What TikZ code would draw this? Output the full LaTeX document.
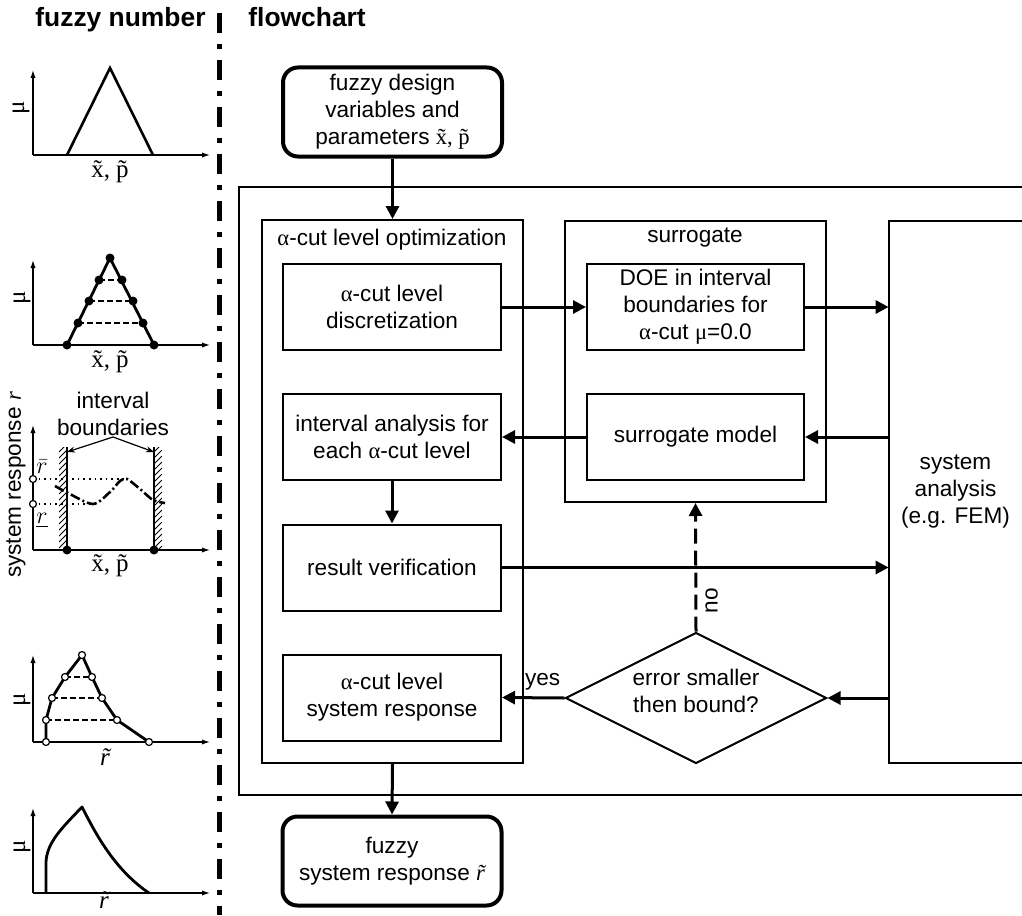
\documentclass[tikz,border=0pt]{standalone}
\usepackage{fontspec}
\setmainfont{Liberation Sans}
\newfontfamily\serif{Liberation Serif}
\usetikzlibrary{arrows.meta,shapes.geometric}
\newcommand{\al}{{\serif α}}
\newcommand{\mymu}{{\serif μ}}
\newcommand{\txt}{\fontsize{11.3}{13.5}\selectfont}
\newcommand{\xp}{{\serif\~x, \~p}}
\newcommand{\rt}{{\serif\itshape\~r}}

\begin{document}
\begin{tikzpicture}[x=0.5pt,y=-0.5pt,
  every node/.style={font=\txt, inner sep=2pt},
  box/.style={draw, line width=1pt, minimum width=109pt, minimum height=43pt, align=center},
  group/.style={draw, line width=1pt, inner sep=0pt},
  frame/.style={line width=1pt},
  term/.style={draw, line width=2pt, rounded corners=7.5pt, minimum width=109.5pt, minimum height=44.5pt, align=center},
  flow/.style={line width=1.5pt, -{Triangle[length=6.5pt,width=6.5pt]}},
  axis/.style={line width=0.6pt, -{Latex[length=4pt,width=2.6pt]}},
  curve/.style={line width=1.4pt, line join=round},
  level/.style={line width=0.6pt, dash pattern=on 3pt off 1.5pt},
  lbl/.style={font=\fontsize{12.5}{14}\selectfont\serif},
  title/.style={font=\fontsize{13.2}{15}\selectfont\bfseries, anchor=base west, inner sep=0pt},
  opendot/.style={fill=white, draw, line width=0.6pt}
]
\useasboundingbox (0,0) rectangle (1022,915);

% ---------- headings and separator ----------
\node[title] (h1) at (35,27) {fuzzy number};
\node[title] (h2) at (248,27) {flowchart};
\draw[line width=2.5pt, dash pattern=on 10pt off 5.5pt on 2.5pt off 5.5pt] (219,13) -- (219,915);

% ---------- fuzzy input ----------
\draw[axis] (33,155) -- (210,155);
\draw[axis] (33,155) -- (33,70);
\draw[line width=1.3pt, line join=miter] (67,155) -- (110,68) -- (153,155);
\node[lbl, rotate=90] (mu1) at (21,108) {μ};
\node[lbl] (xp1) at (110,172) {\xp};

% ---------- discretised input ----------
\draw[axis] (33,345) -- (210,345);
\draw[axis] (33,345) -- (33,260);
\draw[level] (78,323) -- (143,323);
\draw[level] (89,301) -- (133,301);
\draw[level] (99,280) -- (122,280);
\draw[curve] (67,345) -- (110,258) -- (154,345);
\foreach \x/\y in {67/345,78/323,89/301,99/280,110/258,122/280,133/301,143/323,154/345}
  \fill (\x,\y) circle[radius=4.5];
\node[lbl, rotate=90] (mu2) at (22,298) {μ};
\node[lbl] (xp2) at (110,362) {\xp};

% ---------- interval analysis ----------
\draw[axis] (33,550) -- (210,550);
\draw[axis] (33,550) -- (33,425);
\begin{scope}
  \clip (59,447) rectangle (67,550);
  \foreach \y in {440,446,...,566} \draw[line width=0.4pt] (59,\y) -- (67,\y-8);
\end{scope}
\begin{scope}
  \clip (154,447) rectangle (162,550);
  \foreach \y in {440,446,...,566} \draw[line width=0.4pt] (154,\y) -- (162,\y-8);
\end{scope}
\draw[line width=1.2pt] (67,447) -- (67,550);
\draw[line width=1.2pt] (154,447) -- (154,550);
\fill (67,550) circle[radius=4.5];
\fill (154,550) circle[radius=4.5];
\draw[line width=0.8pt, dotted] (33,479) -- (127,479);
\draw[line width=0.8pt, dotted] (33,504) -- (93,504);
\draw[line width=1.3pt, dash pattern=on 5pt off 1.5pt on 1pt off 1.5pt]
  plot[smooth] coordinates {(55,486) (68,493) (93,504) (110,492) (120,481) (127,479) (140,489) (153,500) (165,503)};
\draw[opendot] (33,479) circle[radius=3.5];
\draw[opendot] (33,504) circle[radius=3.5];
\node[align=center] (ib) at (113,414) {interval\\boundaries};
\coordinate (ibroot) at (113,437);
\draw[line width=0.6pt, -{Stealth[length=4pt,width=3pt]}] (ibroot) -- (67,452);
\draw[line width=0.6pt, -{Stealth[length=4pt,width=3pt]}] (ibroot) -- (154,452);
\node[lbl] (rup) at (42,467) {$\bar{r}$};
\node[lbl] (rlo) at (42,520) {$\underline{r}$};
\node[rotate=90] (sr) at (16,485) {system response {\serif\itshape r}};
\node[lbl] (xp3) at (110,566) {\xp};

% ---------- discretised response ----------
\draw[axis] (33,742) -- (210,742);
\draw[axis] (33,742) -- (33,655);
\draw[level] (46,720) -- (117,720);
\draw[level] (52,698) -- (102,698);
\draw[level] (65,677) -- (92,677);
\draw[curve] (46,742) -- (46,720) -- (52,698) -- (65,677) -- (82,655) -- (92,677) -- (102,698) -- (117,720) -- (149,742);
\foreach \x/\y in {46/742,46/720,52/698,65/677,82/655,92/677,102/698,117/720,149/742}
  \draw[opendot] (\x,\y) circle[radius=3.5];
\node[lbl, rotate=90] (mu4) at (22,700) {μ};
\node[lbl] (r4) at (105,757) {\rt};

% ---------- fuzzy response ----------
\draw[axis] (33,893) -- (210,893);
\draw[axis] (33,893) -- (33,808);
\draw[curve] (46,893) -- (46,862) .. controls (47,842) and (62,828) .. (82,807)
  .. controls (93,828) and (112,868) .. (149,893);
\node[lbl, rotate=90] (mu5) at (22,847) {μ};
\node[lbl] (r5) at (104,900) {\rt};

% ---------- flowchart ----------
\node[term] (top) at (392.5,112) {fuzzy design\\variables and\\parameters \xp};
\node[term] (bot) at (392,861) {fuzzy\\system response \rt};

\node[inner sep=0pt, minimum width=391.5pt, minimum height=304pt] (outer) at (630.5,491) {};
\draw[frame] (outer.north east) -- (outer.north west) -- (outer.south west) -- (outer.south east);

\node[group, minimum width=130.5pt, minimum height=271.5pt] (aopt) at (392.5,491.5) {};
\node (aoptlbl) at (392,240) {\al-cut level optimization};
\node[group, minimum width=130.5pt, minimum height=140.5pt] (sur) at (695.5,361.5) {};
\node (surlbl) at (695,238) {surrogate};

\node[inner sep=0pt, minimum width=66.5pt, minimum height=271pt, align=center] (sys) at (955.5,492) {system\\analysis\\(e.g. FEM)};
\draw[frame] (sys.north east) -- (sys.north west) -- (sys.south west) -- (sys.south east);

\node[box] (disc) at (392,307) {\al-cut level\\discretization};
\node[box] (ia) at (392,437) {interval analysis for\\each \al-cut level};
\node[box] (rv) at (392,567.5) {result verification};
\node[box] (resp) at (392,697.5) {\al-cut level\\system response};
\node[box, minimum width=108.5pt] (doe) at (695.5,307) {DOE in interval\\boundaries for\\\al-cut \mymu=0.0};
\node[box, minimum width=108.5pt] (smod) at (695.5,437) {surrogate model};

\node[draw, diamond, line width=1pt, minimum width=130.5pt, minimum height=65.5pt, aspect=2, inner sep=0pt] (dec) at (696,698) {};
\node[align=center] (dectext) at (696,691) {error smaller\\then bound?};

\draw[flow] (top.south) -- (aopt.north);
\draw[flow] (disc.east) -- (doe.west);
\draw[flow] (doe.east) -- (sys.west |- doe.east);
\draw[flow] (sys.west |- smod.east) -- (smod.east);
\draw[flow] (smod.west) -- (ia.east);
\draw[flow] (ia.south) -- (rv.north);
\draw[flow] (rv.east) -- (sys.west |- rv.east);
\draw[flow] (sys.west |- dec.east) -- (dec.east);
\draw[flow] (dec.west) -- node[pos=0.35, above=1pt] (yes) {yes} (resp.east);
\draw[flow, dash pattern=on 7.5pt off 3.5pt] (dec.north) -- node[pos=0.24, rotate=90, anchor=north, inner sep=4pt] (no) {no} (sur.south);
\draw[flow] (aopt.south) -- (bot.north);
\end{tikzpicture}
\end{document}
